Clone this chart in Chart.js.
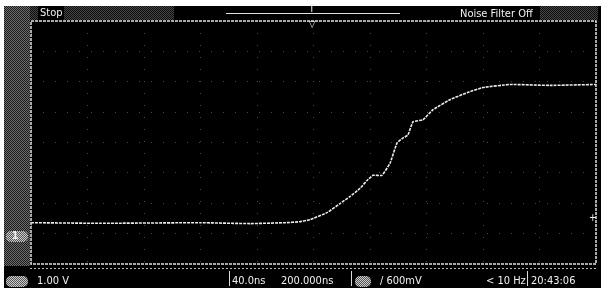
<!DOCTYPE html>
<html>
<head>
<meta charset="utf-8">
<script src="https://cdn.jsdelivr.net/npm/chart.js@4"></script>
<style>
  body { margin: 0; background: #fff; width: 601px; height: 288px; overflow: hidden; position: relative; }
  #scope { position: absolute; left: 4px; top: 6px; width: 597px; height: 282px; background: #000; }
  #side { position: absolute; left: 4px; top: 6px; width: 26px; height: 260px;
    background: repeating-conic-gradient(#888 0 25%, #222 0 50%) 0 0 / 2px 2px; opacity: 0.8; }
  .dith { position: absolute; background: repeating-conic-gradient(#666 0 25%, #111 0 50%) 0 0 / 2px 2px; opacity: 0.7; }
  canvas { position: absolute; left: 0; top: 0; }
  .t { position: absolute; color: #f2f2f2; font-family: "Liberation Sans Narrow", "DejaVu Sans Condensed", sans-serif;
    font-size: 11px; line-height: 12px; white-space: nowrap; }
  .bar { position: absolute; width: 1px; background: #ddd; }
  .badge { position: absolute; width: 22px; height: 11px; border-radius: 5px;
    background: repeating-conic-gradient(#ccc 0 25%, #555 0 50%) 0 0 / 2px 2px; }
</style>
</head>
<body>
<div id="scope"></div>
<div id="side"></div>
<div class="dith" style="left:30px;top:6px;width:8px;height:14px"></div>
<div class="dith" style="left:64px;top:6px;width:110px;height:14px"></div>
<div class="dith" style="left:540px;top:6px;width:58px;height:14px"></div>
<canvas id="chart" width="601" height="288"></canvas>

<div class="t" style="left:40px;top:7px;">Stop</div>
<div class="t" style="left:460px;top:8px;">Noise Filter Off</div>
<div class="t" style="left:309px;top:3px;font-size:10px;">T</div>
<div class="t" style="left:309px;top:18px;font-size:9px;">▽</div>

<div class="badge" style="left:6px;top:231px;"></div>
<div class="t" style="left:12px;top:230px;font-size:10px;font-weight:bold;">1</div>
<div class="t" style="left:589px;top:212px;font-size:10px;">+</div>

<div class="badge" style="left:6px;top:276px;"></div>
<div class="t" style="left:37px;top:275px;">1.00 V</div>
<div class="bar" style="left:229px;top:271px;height:15px;"></div>
<div class="t" style="left:232px;top:275px;">40.0ns</div>
<div class="t" style="left:281px;top:275px;">200.000ns</div>
<div class="bar" style="left:351px;top:271px;height:15px;"></div>
<div class="badge" style="left:355px;top:276px;width:16px;"></div>
<div class="t" style="left:380px;top:275px;">/ 600mV</div>
<div class="t" style="left:486px;top:275px;">&lt; 10 Hz</div>
<div class="bar" style="left:527px;top:271px;height:15px;"></div>
<div class="t" style="left:531px;top:275px;">20:43:06</div>

<script>
// time in ns (40 ns/div, 10 div), voltage in V (1 V/div, 8 div)
const timeNs = [0, 49, 120, 155, 180, 190, 197.5, 209.6, 218.8, 225.8, 232.9, 237.9, 242.1, 248.5,
  254.2, 259.1, 263.4, 266.9, 270.4, 277.5, 284.6, 296.6, 308.7, 320, 339.1, 367.4, 400]
const volts = [-2.64, -2.66, -2.64, -2.67, -2.64, -2.61, -2.54, -2.31, -2.01, -1.78, -1.51, -1.25, -1.08, -1.08,
  -0.68, -0.02, 0.15, 0.25, 0.68, 0.75, 1.08, 1.41, 1.64, 1.81, 1.91, 1.88, 1.91]
const xTicks = [0, 40, 80, 120, 160, 200, 240, 280, 320, 360, 400]
const yTicks = [-4, -3, -2, -1, 0, 1, 2, 3, 4]

const frame = {
  id: "frame",
  afterDraw(chart) {
    const { ctx, chartArea: a } = chart
    ctx.save()
    ctx.strokeStyle = "#e0e0e0"
    ctx.lineWidth = 1.5
    ctx.setLineDash([3, 1])
    ctx.strokeRect(a.left, a.top, a.right - a.left, a.bottom - a.top)
    // trigger position bar
    ctx.lineWidth = 1
    ctx.setLineDash([])
    ctx.beginPath()
    ctx.moveTo(226, 13.5)
    ctx.lineTo(400, 13.5)
    ctx.stroke()
    // lines under the plot
    ctx.strokeStyle = "#bbb"
    ctx.setLineDash([2, 2])
    ctx.beginPath()
    ctx.moveTo(30, 268.5)
    ctx.lineTo(598, 268.5)
    ctx.stroke()
    ctx.restore()
  },
}

new Chart(document.getElementById("chart"), {
  type: "line",
  data: {
    datasets: [
      {
        data: timeNs.map((t, i) => ({ x: t, y: volts[i] })),
        borderColor: "#ececec",
        borderWidth: 1.6,
        borderDash: [3, 1],
        pointRadius: 0,
        tension: 0.1,
      },
    ],
  },
  options: {
    responsive: false,
    animation: false,
    layout: { padding: { left: 31, right: 5, top: 21, bottom: 24 } },
    plugins: { legend: { display: false }, tooltip: { enabled: false } },
    scales: {
      x: {
        type: "linear",
        min: 0,
        max: 400,
        afterBuildTicks: (s) => { s.ticks = xTicks.map((v) => ({ value: v })) },
        ticks: { display: false },
        border: { display: false, dash: [1, 11] },
        grid: { color: "#4a4a4a", lineWidth: 1, drawTicks: false },
      },
      y: {
        min: -4,
        max: 4,
        afterBuildTicks: (s) => { s.ticks = yTicks.map((v) => ({ value: v })) },
        ticks: { display: false },
        border: { display: false, dash: [1, 11] },
        grid: { color: "#4a4a4a", lineWidth: 1, drawTicks: false },
      },
    },
  },
  plugins: [frame],
})
</script>
</body>
</html>
